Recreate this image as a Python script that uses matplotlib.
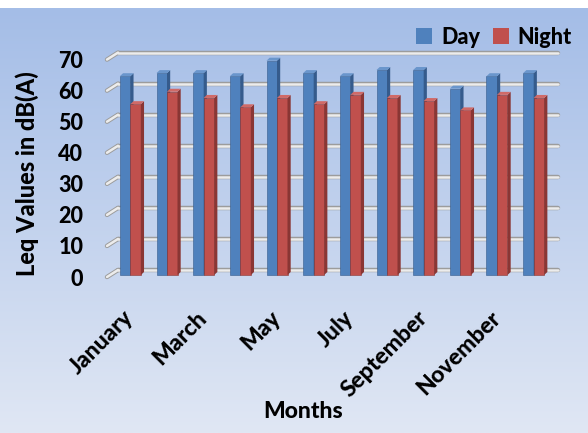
import numpy as np
import matplotlib
matplotlib.use("Agg")
import matplotlib.pyplot as plt
from matplotlib.patches import Polygon, Patch
from matplotlib.colors import LinearSegmentedColormap

months = ["January", "February", "March", "April", "May", "June", "July",
          "August", "September", "October", "November", "December"]
day = [64, 65, 65, 64, 69, 65, 64, 66, 66, 60, 64, 65]
night = [55, 59, 57, 54, 57, 55, 58, 57, 56, 53, 58, 57]
yticks = [0, 10, 20, 30, 40, 50, 60, 70]

plt.rcParams['font.family'] = ['Lato', 'DejaVu Sans']
FW = 'black'
W, H = 588, 433
fig = plt.figure(figsize=(W / 100, H / 100), dpi=100)
fig.patch.set_facecolor('white')

# background gradient
bg = fig.add_axes([0, 0, 1, (H - 8) / H])
grad = np.linspace(0, 1, 256).reshape(-1, 1)
cmap = LinearSegmentedColormap.from_list('bg', ['#a4bde7', '#e0e7f4'])
bg.imshow(grad, aspect='auto', cmap=cmap, extent=[0, 1, 0, 1])
bg.axis('off')
bg.set_zorder(-10)

# main axes: front plane
px_x = 440 / 12
px_y = 3.106
ax = fig.add_axes([107 / W, (H - 277) / H, 440 / W, 80 * px_y / H])
ax.set_xlim(-0.5, 11.5)
ax.set_ylim(0, 80)
ax.patch.set_alpha(0)
for s in ax.spines.values():
    s.set_visible(False)

dxb, dyb = 11 / px_x, 7 / px_y      # back wall offset
ox, oy = 5 / px_x, 2 / px_y         # bar front plane offset
bdx, bdy = 3.2 / px_x, 3.0 / px_y   # bar depth
w = 10.5 / px_x

# gridlines on back wall + slanted ticks
for v in yticks:
    for lw, c in [(3.2, '#9c9c9c'), (1.8, '#ececec')]:
        ax.plot([-0.5 + dxb, 11.5 + dxb], [v + dyb, v + dyb], color=c, lw=lw,
                solid_capstyle='round', clip_on=False, zorder=1)
        ax.plot([-0.5, -0.5 + dxb], [v, v + dyb], color=c, lw=lw,
                solid_capstyle='round', clip_on=False, zorder=1)

def draw_bar(x0, v, front, side, top, z):
    ax.bar(x0, v, width=w, bottom=oy, align='edge', color=front,
           edgecolor=side, linewidth=0.4, zorder=z, clip_on=False)
    ax.add_patch(Polygon([(x0 + w, oy), (x0 + w + bdx, oy + bdy),
                          (x0 + w + bdx, oy + v + bdy), (x0 + w, oy + v)],
                         closed=True, facecolor=side, edgecolor='none',
                         zorder=z, clip_on=False))
    ax.add_patch(Polygon([(x0, oy + v), (x0 + bdx, oy + v + bdy),
                          (x0 + w + bdx, oy + v + bdy), (x0 + w, oy + v)],
                         closed=True, facecolor=top, edgecolor='none',
                         zorder=z, clip_on=False))

for i in range(len(months)):
    c = i + ox
    draw_bar(c - w, day[i], '#4f81bd', '#355b8c', '#6a96cc', 3 + i * 2)
    draw_bar(c, night[i], '#c0504d', '#8a3634', '#d06a67', 4 + i * 2)

ax.set_xticks([])
ax.set_yticks(yticks)
ax.set_yticklabels([str(t) for t in yticks], fontsize=15.5, fontweight=FW)
ax.tick_params(axis='y', length=0, pad=17)

# x labels: every other month, at the category centres
for i, lab in enumerate(months):
    if i % 2:
        continue
    ax.text(i + ox, -12.0, lab, rotation=45, rotation_mode='anchor',
            ha='right', va='center', fontsize=16.5, fontweight=FW,
            clip_on=False)

fig.text(27 / W, 1 - 174 / H, 'Leq Values in dB(A)', rotation=90,
         ha='center', va='center', fontsize=17, fontweight=FW)
fig.text(303 / W, 1 - 412 / H, 'Months', ha='center', va='center',
         fontsize=16.5, fontweight=FW)

handles = [Patch(facecolor='#4f81bd'), Patch(facecolor='#c0504d')]
fig.legend(handles, ['Day', 'Night'], loc='center',
           bbox_to_anchor=(494 / W, 1 - 37 / H), ncol=2, frameon=False,
           prop={'weight': FW, 'size': 15.5}, handlelength=0.75,
           handleheight=0.75, handletextpad=0.4, columnspacing=0.6)

fig.savefig('out.png', dpi=100)
